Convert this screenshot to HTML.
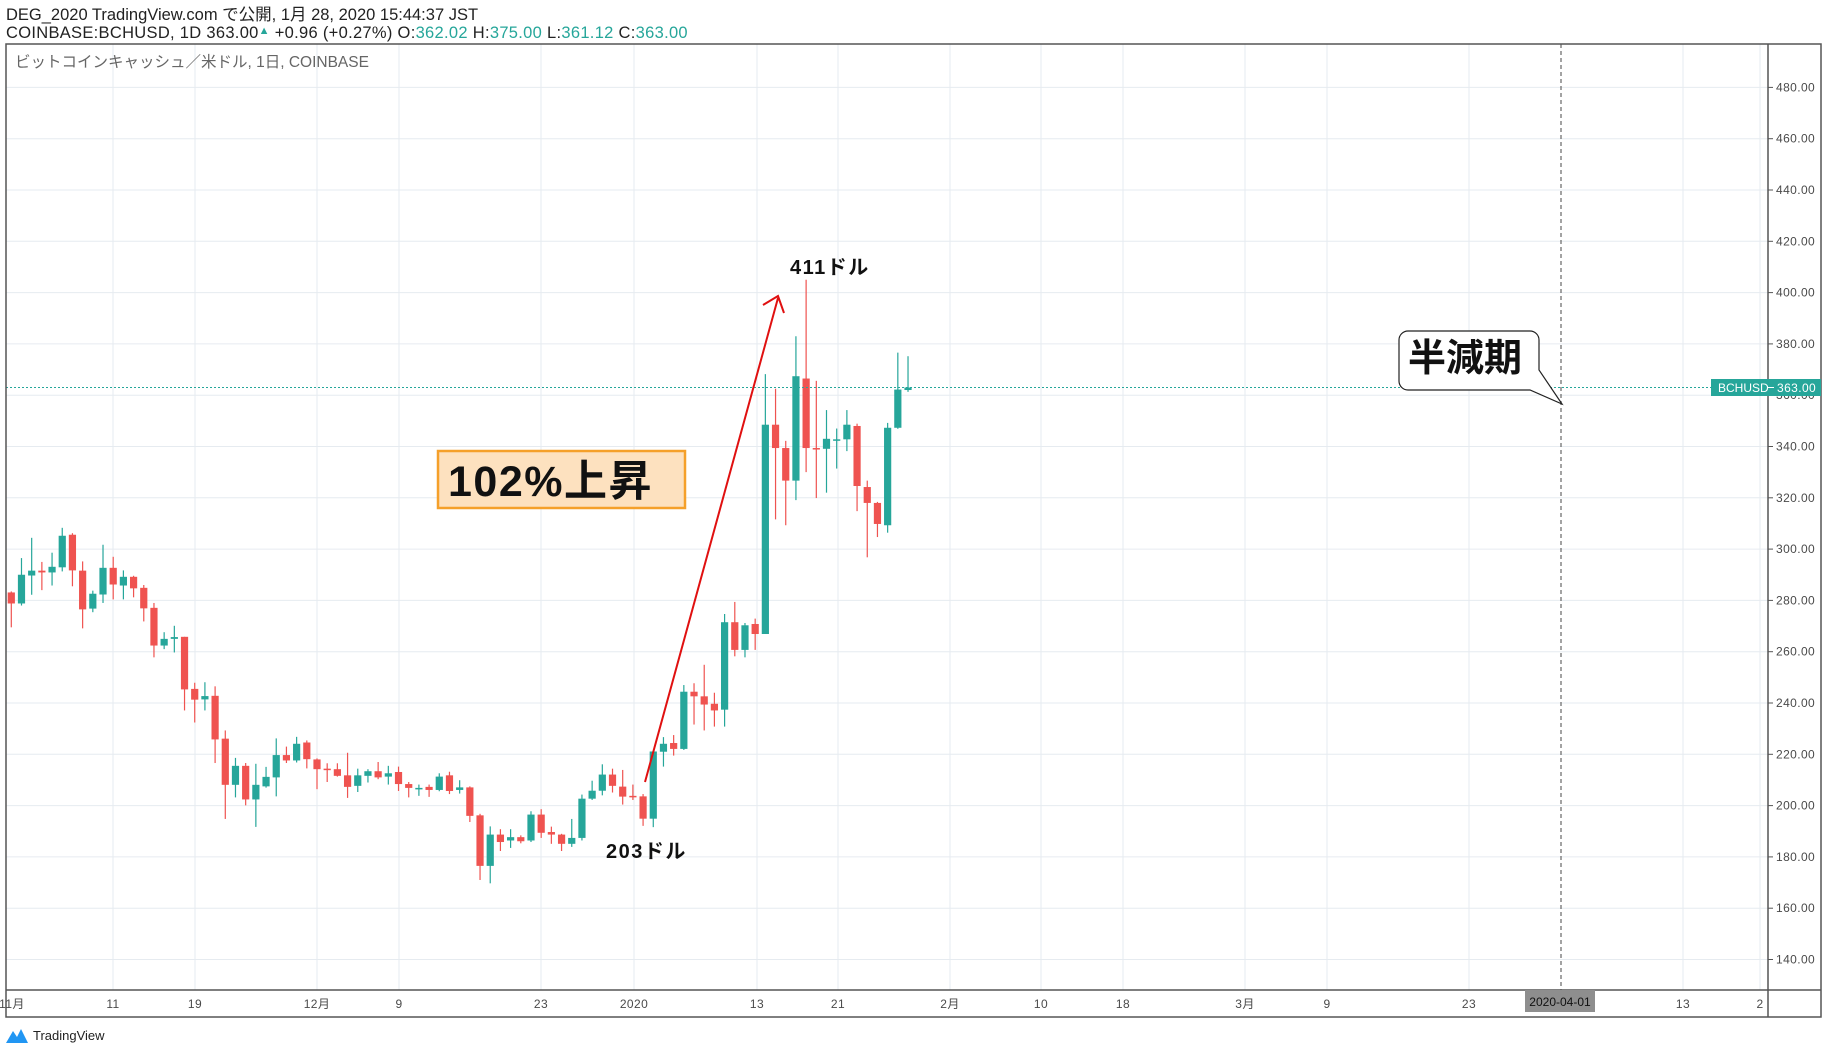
<!DOCTYPE html>
<html><head><meta charset="utf-8"><style>
body{margin:0;background:#fff;width:1828px;height:1054px;overflow:hidden;font-family:"Liberation Sans","Noto Sans CJK JP",sans-serif}
svg{position:absolute;left:0;top:0}
</style></head><body>
<svg id="s" width="1828" height="1054" xmlns="http://www.w3.org/2000/svg" font-family="Liberation Sans, Noto Sans CJK JP, sans-serif">
<text x="6" y="20" font-size="16.5" fill="#222">DEG_2020 TradingView.com で公開, 1月 28, 2020 15:44:37 JST</text>
<text x="6" y="38" font-size="16.5" fill="#222" letter-spacing="0.3">COINBASE:BCHUSD, 1D 363.00<tspan fill="#26a69a" font-size="11" dy="-4">▲</tspan><tspan dy="4"> +0.96 (+0.27%) O:</tspan><tspan fill="#26a69a">362.02</tspan> H:<tspan fill="#26a69a">375.00</tspan> L:<tspan fill="#26a69a">361.12</tspan> C:<tspan fill="#26a69a">363.00</tspan></text>
<g id="grid" stroke="#e6ebf0" stroke-width="1"></g>
<g id="c"></g>
<text x="15" y="67" font-size="15.5" fill="#666">ビットコインキャッシュ／米ドル, 1日, COINBASE</text>
<line x1="6" y1="387.5" x2="1768" y2="387.5" stroke="#26a69a" stroke-dasharray="2,2" stroke-width="1"/>
<line x1="1561" y1="44" x2="1561" y2="990" stroke="#666" stroke-dasharray="4,3" stroke-width="1.2"/>
<rect x="6" y="44" width="1815" height="973" fill="none" stroke="#555" stroke-width="1.5"/>
<line x1="6" y1="990" x2="1821" y2="990" stroke="#555" stroke-width="1.5"/>
<line x1="1768" y1="44" x2="1768" y2="1017" stroke="#555" stroke-width="1.5"/>
<g id="ax" font-size="12" fill="#4a4a4a" letter-spacing="0.4"></g>
<rect x="1711" y="379" width="110" height="17" fill="#26a69a"/>
<text x="1718" y="392" font-size="12" fill="#fff">BCHUSD</text>
<line x1="1768" y1="387.5" x2="1774" y2="387.5" stroke="#fff"/>
<text x="1777" y="392" font-size="12" fill="#fff" letter-spacing="0.4">363.00</text>
<rect x="1525" y="990" width="70" height="22" fill="#8e8e8e"/>
<text x="1560" y="1006" font-size="12" fill="#111" text-anchor="middle">2020-04-01</text>
<g stroke="#e01010" stroke-width="2" fill="none"><line x1="645" y1="782" x2="778" y2="298"/><polyline points="763,305 778,296 784,313"/></g>
<text x="790" y="274" font-size="20" font-weight="bold" fill="#111" letter-spacing="1.5">411ドル</text>
<text x="606" y="858" font-size="20" font-weight="bold" fill="#111" letter-spacing="1.5">203ドル</text>
<rect x="438" y="451" width="247" height="57" fill="#fde1bf" stroke="#f5a02a" stroke-width="2.5"/>
<text x="448" y="496" font-size="43" font-weight="bold" fill="#111" letter-spacing="1.5">102%上昇</text>
<path d="M1408,331 H1530 a9,9 0 0 1 9,9 V370 L1562,404 L1530,390 H1408 a9,9 0 0 1 -9,-9 V340 a9,9 0 0 1 9,-9 Z" fill="#fff" stroke="#222" stroke-width="1.2"/>
<text x="1408" y="371" font-size="38" font-weight="bold" fill="#111">半減期</text>
<g transform="translate(6,1027)"><path d="M0,16 L7,4 L11,10 L15,2 L22,16 Z" fill="#2196f3"/></g>
<text x="33" y="1040" font-size="13" fill="#222">TradingView</text>
</svg>
<script>
var NS="http://www.w3.org/2000/svg";
function el(p,t,a,txt){var e=document.createElementNS(NS,t);for(var k in a)e.setAttribute(k,a[k]);if(txt)e.textContent=txt;p.appendChild(e);return e;}
function Y(p){return 87.4+(480-p)*2.565;}
var g=document.getElementById('grid'),ax=document.getElementById('ax'),c=document.getElementById('c');
for(var p=140;p<=480;p+=20){var y=Y(p);el(g,'line',{x1:6,y1:y,x2:1768,y2:y});el(ax,'line',{x1:1768,y1:y,x2:1773,y2:y,stroke:'#555'});el(ax,'text',{x:1776,y:y+4},p.toFixed(2));}
var tl=[[12,"11月"],[113,"11"],[195,"19"],[317,"12月"],[399,"9"],[541,"23"],[634,"2020"],[757,"13"],[838,"21"],[950,"2月"],[1041,"10"],[1123,"18"],[1245,"3月"],[1327,"9"],[1469,"23"],[1683,"13"],[1760,"2"]];
tl.forEach(function(t){if(t[0]>14)el(g,'line',{x1:t[0],y1:44,x2:t[0],y2:990});el(ax,'text',{x:t[0],y:1008,'text-anchor':'middle'},t[1]);});
var d=[[283.1,278.8,283.5,269.5],[278.8,290,296.5,278],[289.7,291.6,304.4,282.2],[291.6,290.9,295,284],[290.9,293.1,298.6,285.8],[292.9,305.2,308.3,291.3],[305.6,291.7,306.2,285.5],[291.6,276.5,295.2,269.1],[276.8,282.6,283.8,275.4],[282.3,292.7,301.7,279],[292.7,286.2,297,280.4],[285.8,289.2,291.7,280.4],[289.2,284.7,289.6,281.2],[284.9,276.9,286,271.8],[277.1,262.4,279,257.8],[262.4,265,267.6,261],[265,265.7,270.1,259.7],[265.8,245.3,265.8,237.1],[245.5,241.3,247.9,232.4],[241.4,242.7,248.1,237.1],[242.8,225.8,246.5,216.6],[226.1,208.1,229.3,194.8],[208.1,215.5,218.6,203.2],[215.5,202.4,216.6,200.1],[202.4,208.1,216.3,191.7],[207.5,211.2,215.1,207],[211,219.7,226.2,203.6],[219.7,217.6,223,216.6],[217.6,224.1,226.8,216.8],[224.6,218.1,225.4,214.5],[218,214.2,218.4,206.4],[214.4,213.9,216.5,209.2],
[214.2,211.6,216.5,211.3],[211.8,207.3,220.6,203],[207.7,211.8,214.4,205.3],[211.6,213.4,214.2,209],[213.4,211,217,210.3],[211.3,212.6,215.5,208.2],[213.1,208.4,215.2,205.7],[208.4,206.9,209.2,203.2],[206.5,206.9,208.2,203.8],[207.3,206.1,208.2,203.4],[206.1,211.3,212.6,205.6],[211.8,205.7,213.2,204.5],[206.1,207.1,209.9,204.7],[207.1,196,207.5,193.6],[196.2,176.5,196.8,171],[176.5,188.7,191.9,169.7],[188.7,185.8,190.8,182.3],[186.4,187.7,190.8,183.5],[187.7,186.1,188.4,185.3],[186.4,196.5,197.8,185.8],[196.5,189.4,198.6,187.4],[189.7,188.7,191.8,185.1],[188.7,185.1,189,182.3],[185.1,187.4,194.8,183.9],[187.4,202.7,204.3,186.4],[202.7,205.8,209.7,202.2],[205.8,212.1,216.1,204],[212.1,207.7,214.4,205.1],[207.4,203.5,213.9,200.4],[203.8,203.4,208.2,202.2],[203.6,194.9,204.5,192.1],[194.9,221.1,221.1,191.6],
[221,224.1,226.7,215.2],[224.4,222.1,227.5,219.5],[222.1,244.4,247,221.7],[244.4,242.6,247.7,231.6],[242.6,239.4,254.9,229.3],[239.7,237.1,244,230.8],[237.4,271.5,274.7,230.8],[271.5,260.7,279.4,258.2],[260.7,270.3,271.2,257.8],[270.8,266.9,272.9,260.7],[266.9,348.5,368.2,266.9],[348.5,339.4,362.5,311.6],[339.4,326.7,342.2,309.3],[326.7,367.4,383,319.1],[366.5,339.4,405,330],[339.4,339.1,365.6,319.9],[339.1,343,354.2,322],[342.5,342.8,347,331.4],[342.8,348.5,354.2,338.2],[348,324.6,348.9,314.8],[324.2,318,326.7,296.8],[318,309.8,318.4,304.7],[309.3,347.3,349.2,306.4],[347.3,362.2,376.6,346.9],[362.02,363,375.2,361.3]];
d.forEach(function(k,i){var x=11.3+10.19*i,o=k[0],cl=k[1],col=cl>=o?'#26a69a':'#ef5350';
el(c,'line',{x1:x,y1:Y(k[2]),x2:x,y2:Y(k[3]),stroke:col,'stroke-width':1.2});
var t=Y(Math.max(o,cl)),b=Y(Math.min(o,cl));el(c,'rect',{x:x-3.6,y:t,width:7.2,height:Math.max(b-t,1.5),fill:col});});
</script>
</body></html>
